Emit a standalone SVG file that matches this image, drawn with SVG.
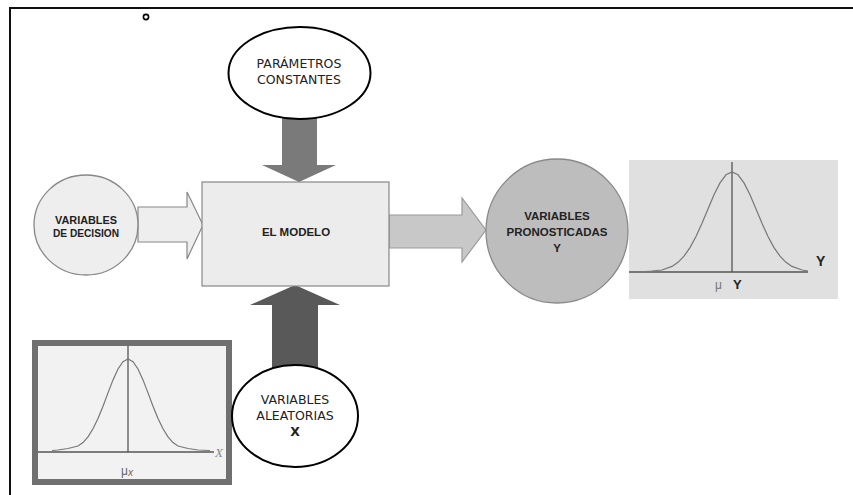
<svg xmlns="http://www.w3.org/2000/svg" width="853" height="495" viewBox="0 0 853 495">
<style>
.ell{fill:#fff;stroke:#000;stroke-width:2}
.lbl{font-family:"DejaVu Sans","Open Sans",sans-serif;font-size:12.5px;fill:#222;text-anchor:middle}
.bold{font-family:"Liberation Sans",Arial,sans-serif;font-weight:bold;fill:#222;text-anchor:middle}
.curve{fill:none;stroke:#777;stroke-width:1.2}
.axis{stroke:#555;stroke-width:1.3}
</style>
<rect width="853" height="495" fill="#fff"/>
<g id="frame">
<path d="M10,495 V8 H853" fill="none" stroke="#111" stroke-width="2"/>
<circle cx="146" cy="17" r="2.6" fill="#fff" stroke="#000" stroke-width="1.6"/>
</g>
<g id="connectors">
<path d="M138,207 H187 V192 L203,225 L187,259 V242 H138 Z" fill="#eee" stroke="#888" stroke-width="1.2"/>
<path d="M389,215 H462 V198 L486,230 L462,262 V248 H389 Z" fill="#c8c8c8" stroke="#999" stroke-width="1.2"/>
<path d="M282,110 H317 V165 H336 L299,182 L262,165 H282 Z" fill="#7a7a7a"/>
<path d="M272,375 V305 H250 L295,285 L340,305 H318 V375 Z" fill="#595959"/>
</g>
<g id="decision">
<ellipse cx="86" cy="225" rx="52" ry="50" fill="#eee" stroke="#888" stroke-width="1.3"/>
<text class="bold" font-size="10" x="86" y="224" textLength="62" lengthAdjust="spacingAndGlyphs">VARIABLES</text>
<text class="bold" font-size="10" x="86" y="237" textLength="66" lengthAdjust="spacingAndGlyphs">DE DECISION</text>
</g>
<g id="modelo">
<rect x="202" y="182" width="187" height="104" fill="#ececec" stroke="#888" stroke-width="1.2"/>
<text class="bold" font-size="11.5" x="296" y="236">EL MODELO</text>
</g>
<g id="parametros">
<ellipse class="ell" cx="299.5" cy="73" rx="71" ry="46"/>
<text class="lbl" x="299" y="68">PARÁMETROS</text>
<text class="lbl" x="299" y="84">CONSTANTES</text>
</g>
<g id="pronosticadas">
<ellipse cx="557" cy="231" rx="71" ry="72" fill="#bdbdbd" stroke="#888" stroke-width="1.3"/>
<text class="bold" font-size="11.5" x="557" y="220">VARIABLES</text>
<text class="bold" font-size="11.5" x="557" y="236">PRONOSTICADAS</text>
<text class="bold" font-size="11.5" x="557" y="252">Y</text>
</g>
<g id="chartY">
<rect x="629" y="160" width="209" height="139" fill="#e0e0e0"/>
<line class="axis" x1="629" y1="272" x2="808" y2="272"/>
<line class="axis" x1="732" y1="162" x2="732" y2="272"/>
<path class="curve" d="M645,271.5 L652,271 L662,270 L672,266.4 L678,262.3 L684,256.2 L690,247.6 L696,236.5 L702,223.3 L708,208.9 L714,194.8 L720,182.9 L726,174.8 L732,172 L738,174.8 L744,182.9 L750,194.8 L756,208.9 L762,223.3 L768,236.5 L774,247.6 L780,256.2 L786,262.3 L792,266.4 L802,270 L808,271"/>
<text x="715" y="289" font-family="Liberation Sans,sans-serif" font-size="12" fill="#777">μ</text>
<text x="733" y="289" font-family="Liberation Sans,sans-serif" font-size="13" font-weight="bold" fill="#222">Y</text>
<text x="816" y="266" font-family="Liberation Sans,sans-serif" font-size="14" font-weight="bold" fill="#222">Y</text>
</g>
<g id="chartX">
<rect x="35" y="343" width="194" height="139" fill="#f2f2f2" stroke="#707070" stroke-width="6"/>
<line class="axis" x1="38" y1="452" x2="214" y2="452"/>
<line class="axis" x1="128" y1="346" x2="128" y2="452"/>
<path class="curve" d="M52,450.5 L58,450 L68,448.5 L78,446 L83,442.6 L88,436.8 L93,428.8 L98,418.5 L103,406.2 L108,392.9 L113,379.9 L118,369 L123,361.6 L128,359 L133,361.6 L138,369 L143,379.9 L148,392.9 L153,406.2 L158,418.5 L163,428.8 L168,436.8 L173,442.6 L178,446 L188,448.5 L198,450 L210,450.5"/>
<text x="215" y="457" font-family="Liberation Serif,serif" font-style="italic" font-size="13" fill="#888">X</text>
<text x="121" y="475" font-family="Liberation Sans,sans-serif" font-size="12" fill="#666">μ<tspan font-size="10" font-style="italic" dy="1">x</tspan></text>
</g>
<g id="aleatorias">
<ellipse class="ell" cx="295" cy="416" rx="63" ry="51"/>
<text class="lbl" x="295" y="404">VARIABLES</text>
<text class="lbl" x="295" y="420">ALEATORIAS</text>
<text class="lbl" x="295" y="436" font-weight="bold">X</text>
</g>
</svg>
